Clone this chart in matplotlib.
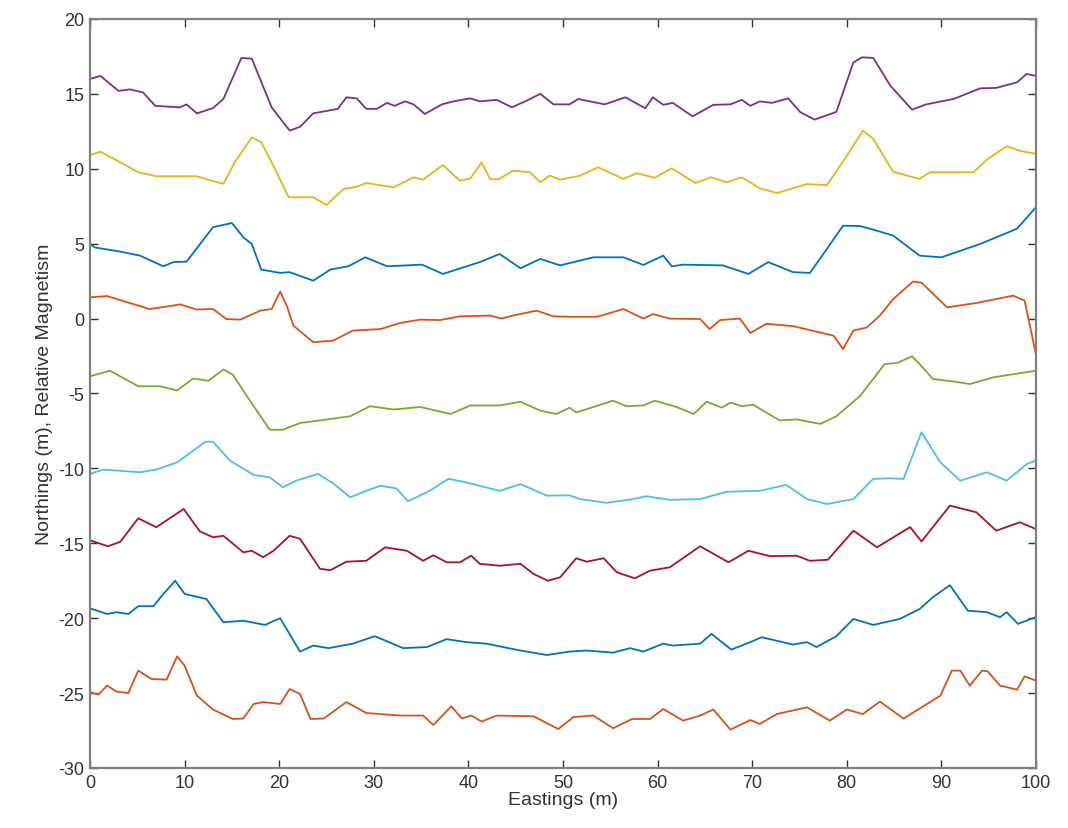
import matplotlib
matplotlib.use('Agg')
import matplotlib.pyplot as plt

# profile lines, top to bottom
x1 = [0, 1.1, 3.0, 4.2, 5.6, 6.9, 9.5, 10.2, 11.3, 13.0, 14.1, 16.0, 17.1, 19.2, 21.1, 22.2, 23.6, 26.2, 27.1, 28.2,
      29.2, 30.3, 31.4, 32.2, 33.3, 34.2, 35.4, 37.2, 38.4, 40.2, 41.2, 43.0, 44.6, 46.0, 47.6, 49.0, 50.7, 51.6, 54.4,
      56.6, 58.7, 59.5, 60.6, 61.6, 63.7, 65.9, 67.7, 68.9, 69.8, 70.8, 72.1, 73.8, 75.1, 76.6, 78.9, 80.7, 81.6, 82.8,
      84.6, 86.9, 88.4, 91.3, 94.1, 95.8, 98.0, 99.0, 100]
y1 = [16.0, 16.2, 15.2, 15.3, 15.1, 14.2, 14.1, 14.3, 13.7, 14.05, 14.66, 17.4, 17.35, 14.1, 12.55, 12.8, 13.7, 14.0,
      14.77, 14.7, 14.0, 14.0, 14.4, 14.2, 14.5, 14.3, 13.66, 14.3, 14.5, 14.7, 14.5, 14.6, 14.1, 14.5, 15.0, 14.3, 14.3,
      14.66, 14.3, 14.77, 14.04, 14.77, 14.27, 14.4, 13.5, 14.27, 14.3, 14.6, 14.2, 14.5, 14.4, 14.7, 13.77, 13.28, 13.8,
      17.1, 17.44, 17.4, 15.55, 13.95, 14.3, 14.66, 15.37, 15.4, 15.77, 16.33, 16.2]

x2 = [0, 1.1, 3.2, 5.1, 7.0, 11.3, 12.5, 14.1, 15.3, 17.1, 18.1, 19.2, 21.0, 23.6, 25.0, 26.8, 28.2, 29.2, 32.1, 34.2,
      35.2, 37.3, 39.1, 40.2, 41.4, 42.3, 43.2, 44.7, 46.5, 47.6, 48.6, 49.7, 51.8, 53.7, 56.4, 57.8, 59.7, 61.5, 64.0,
      65.7, 67.3, 68.9, 70.8, 72.6, 75.8, 77.9, 80.0, 81.7, 82.8, 84.9, 87.7, 88.8, 93.4, 94.8, 96.9, 98.3, 100]
y2 = [10.92, 11.14, 10.43, 9.77, 9.5, 9.5, 9.27, 9.0, 10.43, 12.1, 11.77, 10.43, 8.1, 8.1, 7.58, 8.65, 8.8, 9.05, 8.76,
      9.43, 9.27, 10.25, 9.2, 9.35, 10.43, 9.3, 9.3, 9.87, 9.77, 9.1, 9.55, 9.27, 9.54, 10.1, 9.32, 9.7, 9.4, 10.03, 9.05,
      9.43, 9.1, 9.43, 8.7, 8.38, 8.98, 8.9, 10.87, 12.55, 12.0, 9.8, 9.32, 9.77, 9.77, 10.6, 11.5, 11.2, 11.0]

x3 = [0, 0.5, 3.2, 5.3, 7.75, 8.8, 10.2, 13.0, 15.0, 16.2, 17.1, 18.1, 20.1, 21.1, 23.6, 25.4, 27.3, 29.1, 31.4, 35.1,
      37.3, 41.2, 43.3, 45.5, 47.6, 49.7, 53.2, 56.4, 58.5, 60.6, 61.5, 62.7, 66.9, 69.6, 71.7, 74.3, 76.1, 77.9, 79.6,
      81.4, 83.0, 84.9, 87.7, 90.0, 94.1, 98.0, 100]
y3 = [5.0, 4.75, 4.47, 4.2, 3.49, 3.77, 3.8, 6.1, 6.38, 5.43, 4.98, 3.27, 3.05, 3.1, 2.53, 3.27, 3.49, 4.09, 3.49, 3.6,
      2.98, 3.77, 4.31, 3.36, 3.98, 3.55, 4.09, 4.09, 3.58, 4.2, 3.49, 3.6, 3.55, 2.98, 3.77, 3.1, 3.05, 4.65, 6.2, 6.18,
      5.9, 5.54, 4.2, 4.09, 4.98, 6.0, 7.43]

x4 = [0, 1.8, 4.2, 6.3, 8.1, 9.5, 11.3, 13.0, 14.4, 15.9, 18.0, 19.2, 20.1, 20.8, 21.5, 23.6, 25.7, 27.8, 30.7, 32.8,
      34.9, 37.0, 39.1, 42.3, 43.5, 44.7, 47.2, 49.0, 50.7, 53.6, 56.4, 58.5, 59.5, 61.3, 64.5, 65.5, 66.6, 68.7, 69.8,
      71.5, 74.3, 78.6, 79.6, 80.7, 82.1, 83.5, 84.9, 87.0, 87.9, 90.6, 93.7, 97.6, 98.8, 100]
y4 = [1.42, 1.5, 1.04, 0.64, 0.8, 0.95, 0.6, 0.64, -0.03, -0.07, 0.53, 0.64, 1.8, 0.86, -0.47, -1.58, -1.47, -0.8, -0.7,
      -0.29, -0.07, -0.1, 0.15, 0.2, 0.0, 0.2, 0.53, 0.15, 0.12, 0.12, 0.64, 0.0, 0.3, 0.0, -0.03, -0.7, -0.1, 0.0, -0.96,
      -0.35, -0.5, -1.14, -2.03, -0.8, -0.6, 0.2, 1.3, 2.47, 2.4, 0.75, 1.04, 1.53, 1.2, -2.4]

x5 = [0, 2.1, 5.1, 7.4, 9.2, 10.9, 12.5, 14.1, 15.1, 16.9, 19.0, 20.4, 22.2, 24.3, 27.5, 29.6, 32.1, 34.9, 38.1, 40.2,
      43.3, 45.5, 47.6, 49.3, 50.7, 51.4, 55.3, 56.7, 58.5, 59.7, 62.0, 63.8, 65.2, 66.8, 67.7, 68.9, 70.1, 72.9, 74.7,
      77.2, 78.9, 81.4, 82.8, 84.0, 85.3, 86.9, 87.7, 89.1, 91.3, 93.0, 95.5, 100]
y5 = [-3.85, -3.48, -4.52, -4.52, -4.8, -4.0, -4.15, -3.4, -3.75, -5.48, -7.42, -7.42, -6.97, -6.8, -6.52, -5.85, -6.07,
      -5.9, -6.37, -5.8, -5.8, -5.55, -6.15, -6.37, -5.95, -6.27, -5.48, -5.85, -5.8, -5.48, -5.9, -6.37, -5.55, -5.95,
      -5.6, -5.85, -5.75, -6.8, -6.73, -7.03, -6.52, -5.17, -4.03, -3.03, -2.97, -2.52, -3.03, -4.03, -4.2, -4.37, -3.92,
      -3.48]

x6 = [0, 1.4, 5.3, 7.0, 9.2, 10.9, 12.2, 13.0, 14.8, 17.3, 19.0, 20.4, 21.8, 24.1, 25.7, 27.5, 29.2, 30.7, 32.4, 33.6,
      35.9, 37.9, 39.5, 43.3, 45.5, 48.3, 50.7, 51.8, 54.6, 57.4, 58.8, 61.3, 64.5, 67.3, 70.8, 73.6, 75.8, 77.9, 80.7,
      82.8, 84.6, 86.0, 87.9, 89.9, 92.0, 94.8, 96.9, 99.0, 100]
y6 = [-10.37, -10.08, -10.26, -10.08, -9.6, -8.82, -8.22, -8.22, -9.48, -10.44, -10.6, -11.26, -10.82, -10.37, -11.0,
      -11.93, -11.5, -11.16, -11.34, -12.2, -11.5, -10.7, -10.9, -11.5, -11.05, -11.82, -11.8, -12.05, -12.3, -12.05,
      -11.86, -12.1, -12.05, -11.56, -11.5, -11.1, -12.05, -12.38, -12.05, -10.7, -10.66, -10.7, -7.59, -9.6, -10.82,
      -10.26, -10.82, -9.72, -9.48]

x7 = [0, 1.9, 3.2, 5.1, 7.0, 9.9, 11.6, 13.0, 14.1, 16.2, 17.1, 18.3, 19.4, 21.1, 22.2, 24.3, 25.4, 27.1, 29.2, 31.2,
      33.5, 35.2, 36.3, 37.7, 39.1, 40.3, 41.2, 43.3, 45.5, 46.9, 48.4, 49.7, 51.4, 52.5, 54.3, 55.7, 57.6, 59.2, 61.3,
      64.5, 67.5, 69.6, 71.9, 74.7, 76.1, 78.0, 80.7, 83.2, 86.7, 87.9, 90.9, 93.7, 95.8, 98.3, 100]
y7 = [-14.8, -15.2, -14.9, -13.33, -13.93, -12.71, -14.2, -14.6, -14.5, -15.6, -15.5, -15.93, -15.5, -14.5, -14.7,
      -16.7, -16.8, -16.23, -16.17, -15.27, -15.5, -16.17, -15.8, -16.27, -16.27, -15.83, -16.37, -16.5, -16.37, -17.05,
      -17.5, -17.27, -16.0, -16.23, -16.0, -16.94, -17.34, -16.83, -16.6, -15.2, -16.27, -15.5, -15.86, -15.83, -16.17,
      -16.1, -14.16, -15.27, -13.92, -14.88, -12.49, -12.93, -14.16, -13.6, -14.05]

x8 = [0, 1.8, 2.8, 4.05, 5.1, 6.7, 7.6, 9.0, 10.0, 12.3, 14.1, 16.2, 18.5, 20.1, 22.2, 23.6, 25.2, 27.8, 30.1, 33.1,
      35.6, 37.7, 39.8, 41.9, 45.5, 48.3, 50.7, 52.5, 55.3, 57.1, 58.5, 60.6, 61.6, 64.5, 65.7, 67.8, 69.8, 71.0, 74.3,
      75.8, 76.8, 78.9, 80.7, 82.8, 85.6, 87.7, 89.1, 90.9, 92.8, 94.8, 96.2, 96.9, 98.1, 100]
y8 = [-19.34, -19.72, -19.6, -19.72, -19.2, -19.2, -18.5, -17.5, -18.38, -18.72, -20.27, -20.17, -20.45, -20.0, -22.23,
      -21.83, -22.0, -21.7, -21.2, -22.0, -21.93, -21.4, -21.6, -21.7, -22.16, -22.46, -22.23, -22.16, -22.3, -22.0,
      -22.23, -21.7, -21.83, -21.7, -21.05, -22.1, -21.6, -21.27, -21.76, -21.6, -21.93, -21.2, -20.05, -20.45, -20.05,
      -19.39, -18.6, -17.8, -19.5, -19.6, -19.93, -19.6, -20.38, -19.93]

x9 = [0, 0.9, 1.8, 2.8, 4.05, 5.1, 6.5, 8.1, 9.2, 10.0, 11.3, 13.0, 15.1, 16.2, 17.3, 18.3, 20.1, 21.1, 22.2, 23.3, 24.7,
      27.1, 29.2, 32.8, 35.2, 36.3, 38.2, 39.3, 40.3, 41.4, 43.0, 46.9, 49.5, 51.1, 53.2, 55.3, 57.3, 59.2, 60.6, 62.7,
      64.5, 65.9, 67.7, 69.8, 70.8, 72.6, 75.8, 78.2, 80.0, 81.7, 83.5, 86.0, 89.9, 91.1, 92.0, 93.0, 94.3, 94.9, 96.2,
      98.0, 98.8, 100]
y9 = [-24.95, -25.1, -24.5, -24.9, -25.0, -23.5, -24.06, -24.1, -22.55, -23.17, -25.17, -26.1, -26.73, -26.7, -25.73,
      -25.6, -25.73, -24.73, -25.06, -26.73, -26.7, -25.6, -26.33, -26.5, -26.5, -27.13, -25.88, -26.7, -26.5, -26.9,
      -26.5, -26.55, -27.4, -26.6, -26.5, -27.35, -26.73, -26.73, -26.06, -26.84, -26.5, -26.1, -27.44, -26.8, -27.06,
      -26.4, -25.95, -26.84, -26.1, -26.4, -25.57, -26.7, -25.17, -23.5, -23.5, -24.5, -23.5, -23.55, -24.5, -24.77,
      -23.88, -24.17]

profiles = [(x1, y1, '#7E2F8E'), (x2, y2, '#EDB120'), (x3, y3, '#0072BD'),
            (x4, y4, '#D95319'), (x5, y5, '#77AC30'), (x6, y6, '#4DBEEE'),
            (x7, y7, '#A2142F'), (x8, y8, '#0072BD'), (x9, y9, '#D95319')]

plt.rcParams['font.family'] = ['Liberation Sans', 'DejaVu Sans']
plt.rcParams['axes.unicode_minus'] = False   # plain hyphen like the original

fig = plt.figure(figsize=(10.68, 8.29), dpi=100)
ax = fig.add_axes([0.0843, 0.0724, 0.8857, 0.9035])

for xs, ys, c in profiles:
    ax.plot(xs, ys, color=c, linewidth=1.3)

ax.set_xlim(0, 100)
ax.set_ylim(-30, 20)
ax.set_xticks(range(0, 101, 10))
ax.set_yticks(range(-30, 21, 5))
ax.tick_params(direction='in', top=True, right=True, length=6, width=1,
               labelsize=13, colors='#333333', pad=4)
for sp in ax.spines.values():
    sp.set_color('#808080')
    sp.set_linewidth(1.6)

ax.set_xlabel('Eastings (m)', fontsize=14, color='#333333', labelpad=0)
ax.set_ylabel('Northings (m), Relative Magnetism', fontsize=14, color='#333333', labelpad=4)

fig.savefig('out.png', dpi=100)
